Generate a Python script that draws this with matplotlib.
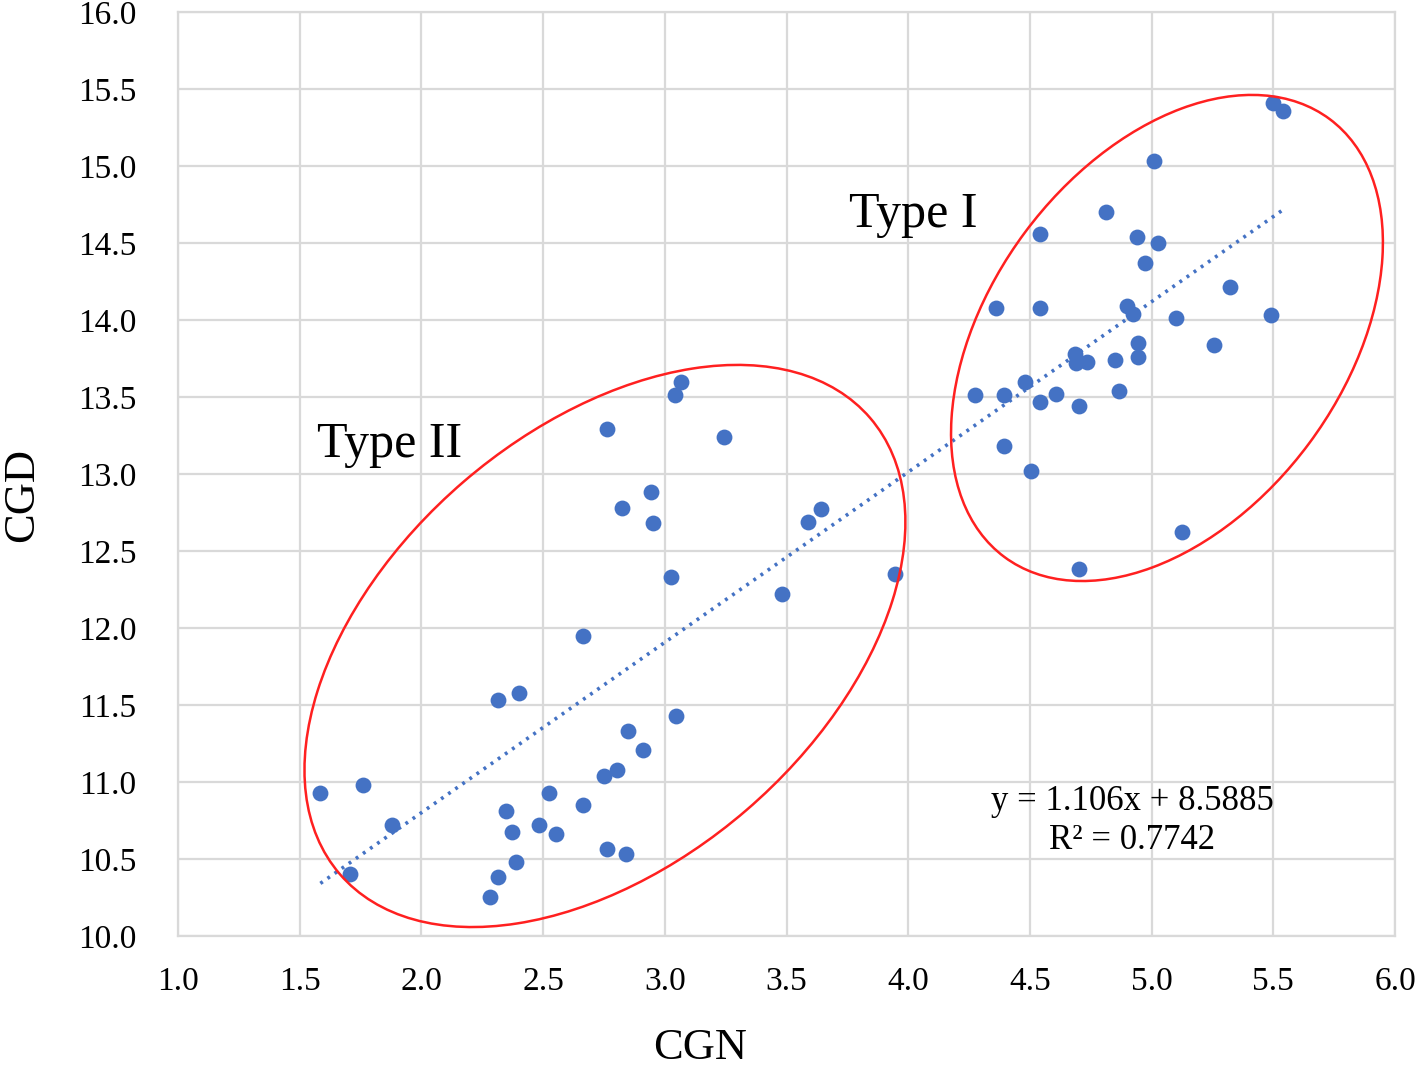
import numpy as np
import matplotlib.pyplot as plt
from matplotlib.patches import Ellipse
from matplotlib.transforms import Affine2D

plt.rcParams['font.family'] = ['Liberation Serif', 'DejaVu Serif']

# Type II group (lower left)
cgn_ii = [1.585, 1.759, 1.878, 1.705, 2.316, 2.403, 2.347, 2.372, 2.523, 2.482,
          2.553, 2.387, 2.316, 2.283, 2.665, 2.761, 2.840, 2.751, 2.803, 2.912,
          2.849, 3.047, 2.665, 3.024, 2.823, 2.945, 2.953, 2.761, 3.040, 3.065,
          3.245, 3.641, 3.590, 3.480, 3.945]
cgd_ii = [10.93, 10.98, 10.72, 10.40, 11.53, 11.58, 10.81, 10.675, 10.93, 10.72,
          10.66, 10.48, 10.38, 10.25, 10.85, 10.565, 10.53, 11.04, 11.08, 11.21,
          11.33, 11.43, 11.945, 12.33, 12.78, 12.88, 12.68, 13.29, 13.51, 13.60,
          13.24, 12.77, 12.69, 12.22, 12.35]

# Type I group (upper right)
cgn_i = [5.497, 5.538, 5.011, 4.812, 4.543, 4.939, 5.027, 4.971, 5.323, 4.361,
         4.543, 4.898, 4.925, 5.099, 5.489, 5.258, 4.946, 4.946, 4.851, 4.735,
         4.685, 4.690, 4.481, 4.276, 4.393, 4.606, 4.543, 4.700, 4.867, 4.393,
         4.504, 5.123, 4.700]
cgd_i = [15.41, 15.36, 15.03, 14.70, 14.555, 14.54, 14.50, 14.37, 14.215, 14.08,
         14.08, 14.09, 14.04, 14.01, 14.03, 13.84, 13.85, 13.76, 13.74, 13.73,
         13.78, 13.72, 13.60, 13.51, 13.51, 13.52, 13.47, 13.44, 13.54, 13.18,
         13.02, 12.62, 12.38]

# trendline from the chart
slope = 1.106
intercept = 8.5885
r2 = 0.7742

xticks = np.arange(1.0, 6.01, 0.5)
yticks = np.arange(10.0, 16.01, 0.5)

x = np.array(cgn_ii + cgn_i)
y = np.array(cgd_ii + cgd_i)

fig = plt.figure(figsize=(14.16, 10.67), dpi=100)
ax = fig.add_axes([0.1257, 0.1228, 0.8595, 0.8660])

ax.scatter(x, y, s=130, color='#4472C4', zorder=3, linewidths=0)

# dotted linear trendline over the data range
xl = np.array([x.min(), x.max()])
ax.plot(xl, slope * xl + intercept, color='#4472C4', lw=2.6,
        linestyle=(0, (0.8, 1.6)), zorder=2)

ax.set_xlim(1.0, 6.0)
ax.set_ylim(10.0, 16.0)
ax.set_xticks(xticks)
ax.set_yticks(yticks)
ax.set_xticklabels([f'{v:.1f}' for v in xticks])
ax.set_yticklabels([f'{v:.1f}' for v in yticks])
ax.tick_params(length=0, labelsize=24)
ax.tick_params(axis='x', pad=22)
ax.tick_params(axis='y', pad=30)
ax.grid(True, color='#D9D9D9', lw=1.6, zorder=0)
ax.set_axisbelow(True)
for s in ax.spines.values():
    s.set_color('#D9D9D9')
    s.set_linewidth(1.6)

# group ellipses, drawn in a space where one x unit looks as long as on screen
sx = 243.4 / 154.0
tr = Affine2D().scale(1 / sx, 1) + ax.transData
groups = [((2.754, 11.883), 2.271, 1.407, 40.7),
          ((5.063, 13.883), 1.771, 1.149, 53.4)]
for (cx, cy), a, b, ang in groups:
    ax.add_patch(Ellipse((cx * sx, cy), 2 * a, 2 * b, angle=ang, fill=False,
                         edgecolor='#FF2020', lw=1.8, transform=tr, zorder=4))

ax.text(4.02, 14.68, 'Type I', fontsize=36, ha='center', va='center')
ax.text(1.87, 13.19, 'Type II', fontsize=36, ha='center', va='center')
ax.text(4.92, 10.745, f'y = {slope}x + {intercept}\nR² = {r2}', fontsize=25,
        ha='center', va='center', multialignment='center', linespacing=1.25)

fig.text(700 / 1416, 1 - 1048 / 1067, 'CGN', fontsize=32, ha='center', va='center')
fig.text(22 / 1416, 1 - 495 / 1067, 'CGD', fontsize=32, ha='center', va='center',
         rotation=90)

fig.savefig('out.png', dpi=100)
